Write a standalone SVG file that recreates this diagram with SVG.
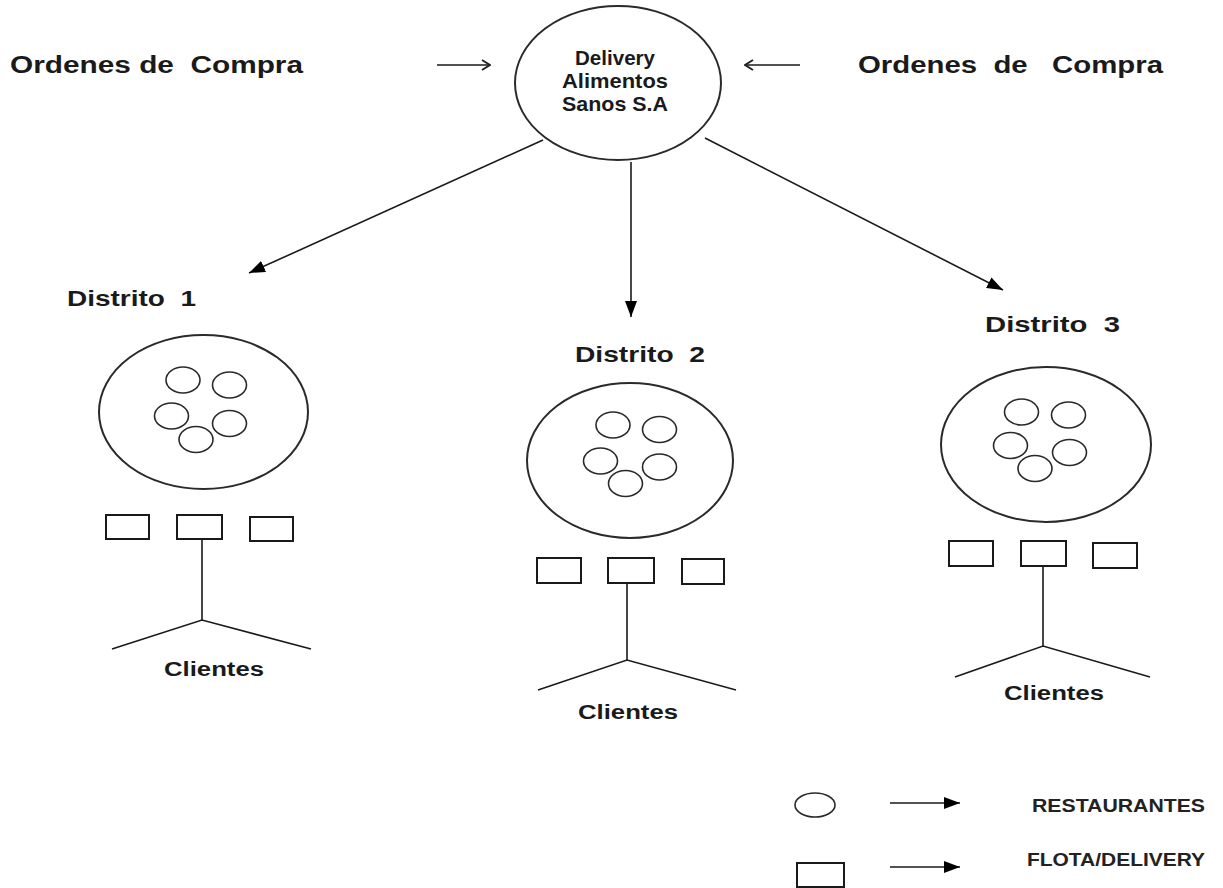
<svg xmlns="http://www.w3.org/2000/svg" width="1223" height="888" viewBox="0 0 1223 888">
<defs>
<style>
.t{font-family:"Liberation Sans",Arial,sans-serif;font-weight:bold;fill:#1a1a1a}
.big{stroke:#2a2a2a;stroke-width:2;fill:none}
.sm{stroke:#2a2a2a;stroke-width:1.6;fill:none}
.rc{stroke:#1a1a1a;stroke-width:2;fill:none}
.ln{stroke:#1a1a1a;stroke-width:1.6;fill:none}
.lg{font-family:"Liberation Sans",Arial,sans-serif;font-weight:bold;fill:#222}
</style>
<marker id="fa" viewBox="0 0 16 12" markerWidth="16" markerHeight="12" refX="16" refY="6" orient="auto" markerUnits="userSpaceOnUse">
<path d="M0,0 L16,6 L0,12 z" fill="#000"/>
</marker>
<marker id="oa" viewBox="0 0 10 12" markerWidth="10" markerHeight="12" refX="9" refY="6" orient="auto" markerUnits="userSpaceOnUse">
<path d="M1,1 L9,6 L1,11" fill="none" stroke="#222" stroke-width="2"/>
</marker>
</defs>
<rect width="1223" height="888" fill="#fff"/>

<g id="labels-top">
<text class="t" x="10" y="73" font-size="23" textLength="293" lengthAdjust="spacingAndGlyphs" xml:space="preserve">Ordenes de  Compra</text>
<text class="t" x="858" y="73" font-size="23" textLength="305" lengthAdjust="spacingAndGlyphs" xml:space="preserve">Ordenes  de   Compra</text>
</g>

<g id="center">
<ellipse class="big" cx="618" cy="83" rx="103" ry="77"/>
<text class="t" x="615" y="65" font-size="21" text-anchor="middle" textLength="80" lengthAdjust="spacingAndGlyphs">Delivery</text>
<text class="t" x="615" y="88" font-size="21" text-anchor="middle" textLength="106" lengthAdjust="spacingAndGlyphs">Alimentos</text>
<text class="t" x="615" y="111" font-size="21" text-anchor="middle" textLength="106" lengthAdjust="spacingAndGlyphs">Sanos S.A</text>
</g>

<g id="connectors">
<line class="ln" x1="437" y1="65" x2="490" y2="65" marker-end="url(#oa)"/>
<line class="ln" x1="800" y1="65" x2="745" y2="65" marker-end="url(#oa)"/>
<line class="ln" x1="543" y1="140" x2="249" y2="273" marker-end="url(#fa)"/>
<line class="ln" x1="631" y1="162" x2="631" y2="317" marker-end="url(#fa)"/>
<line class="ln" x1="705" y1="138" x2="1003" y2="290" marker-end="url(#fa)"/>
</g>

<g id="distrito1">
<text class="t" x="67" y="306" font-size="22" textLength="129" lengthAdjust="spacingAndGlyphs" xml:space="preserve">Distrito  1</text>
<ellipse class="big" cx="203.5" cy="412" rx="104.5" ry="77"/>
<ellipse class="sm" cx="183" cy="380" rx="17" ry="13"/>
<ellipse class="sm" cx="229.5" cy="385" rx="17" ry="13"/>
<ellipse class="sm" cx="171.5" cy="416" rx="17" ry="13"/>
<ellipse class="sm" cx="229.5" cy="423.5" rx="17" ry="13"/>
<ellipse class="sm" cx="196" cy="439.5" rx="17" ry="13"/>
<rect class="rc" x="106" y="515" width="43" height="24"/>
<rect class="rc" x="177" y="515" width="45" height="24"/>
<rect class="rc" x="250" y="517" width="43" height="24"/>
<polyline class="ln" points="202,539 202,620"/>
<polyline class="ln" points="112,649 202,620 311,649"/>
<text class="t" x="164" y="676" font-size="20" textLength="100" lengthAdjust="spacingAndGlyphs">Clientes</text>
</g>

<g id="distrito2">
<text class="t" x="575" y="362" font-size="22" textLength="130" lengthAdjust="spacingAndGlyphs" xml:space="preserve">Distrito  2</text>
<ellipse class="big" cx="630" cy="460.5" rx="103" ry="77.5"/>
<ellipse class="sm" cx="613" cy="425" rx="17" ry="13"/>
<ellipse class="sm" cx="659.5" cy="429.5" rx="17" ry="13"/>
<ellipse class="sm" cx="600.5" cy="461" rx="17" ry="13"/>
<ellipse class="sm" cx="659.5" cy="467" rx="17" ry="13"/>
<ellipse class="sm" cx="625.5" cy="483.5" rx="17" ry="13"/>
<rect class="rc" x="537" y="558" width="44" height="25"/>
<rect class="rc" x="608" y="558" width="46" height="25"/>
<rect class="rc" x="682" y="559" width="42" height="25"/>
<polyline class="ln" points="627,583 627,660"/>
<polyline class="ln" points="538,690 627,660 736,690"/>
<text class="t" x="578" y="719" font-size="20" textLength="100" lengthAdjust="spacingAndGlyphs">Clientes</text>
</g>

<g id="distrito3">
<text class="t" x="985" y="332" font-size="22" textLength="135" lengthAdjust="spacingAndGlyphs" xml:space="preserve">Distrito  3</text>
<ellipse class="big" cx="1046" cy="444.5" rx="105" ry="77.5"/>
<ellipse class="sm" cx="1021.5" cy="412" rx="17" ry="13"/>
<ellipse class="sm" cx="1068.5" cy="415" rx="17" ry="13"/>
<ellipse class="sm" cx="1010.5" cy="445.5" rx="17" ry="13"/>
<ellipse class="sm" cx="1069.5" cy="452.5" rx="17" ry="13"/>
<ellipse class="sm" cx="1035" cy="468.5" rx="17" ry="13"/>
<rect class="rc" x="949" y="541" width="44" height="25"/>
<rect class="rc" x="1021" y="541" width="45" height="25"/>
<rect class="rc" x="1093" y="543" width="44" height="25"/>
<polyline class="ln" points="1043,566 1043,646"/>
<polyline class="ln" points="955,677 1043,646 1150,677"/>
<text class="t" x="1004" y="700" font-size="20" textLength="100" lengthAdjust="spacingAndGlyphs">Clientes</text>
</g>

<g id="legend">
<ellipse class="sm" cx="815" cy="805" rx="20" ry="12"/>
<line class="ln" x1="890" y1="803" x2="960" y2="803" marker-end="url(#fa)"/>
<text class="lg" x="1032" y="812" font-size="18" textLength="173" lengthAdjust="spacingAndGlyphs">RESTAURANTES</text>
<rect class="rc" x="797" y="863" width="47" height="24"/>
<line class="ln" x1="890" y1="867" x2="960" y2="867" marker-end="url(#fa)"/>
<text class="lg" x="1027" y="866" font-size="18" textLength="178" lengthAdjust="spacingAndGlyphs">FLOTA/DELIVERY</text>
</g>
</svg>
